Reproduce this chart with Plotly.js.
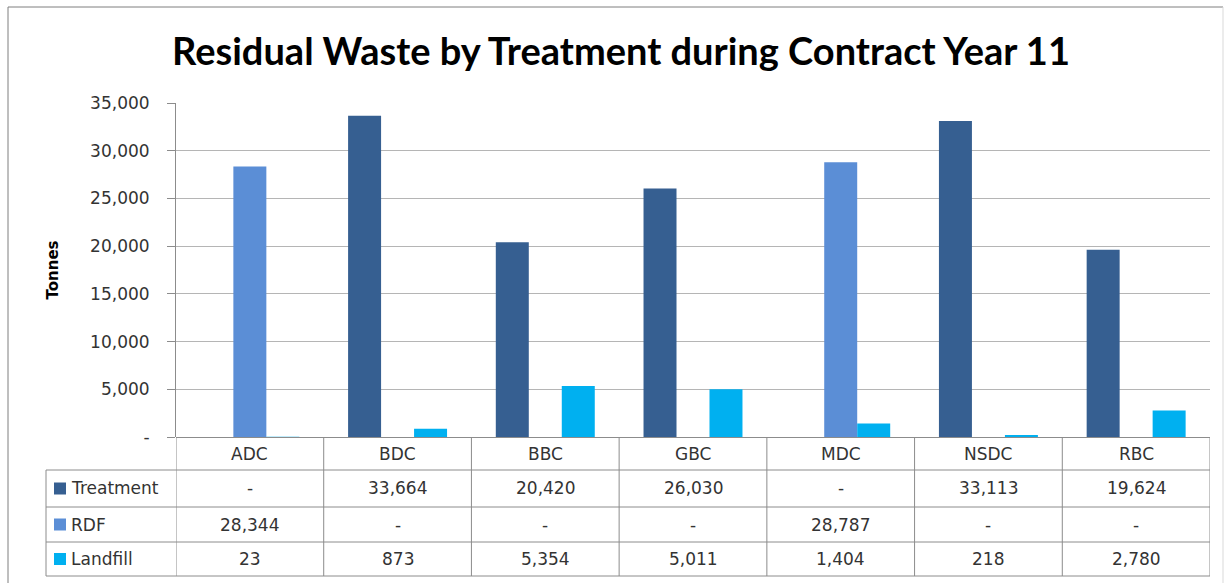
<!DOCTYPE html>
<html>
<head>
<meta charset="utf-8">
<script src="https://cdn.plot.ly/plotly-3.0.1.min.js"></script>
<style>html,body{margin:0;padding:0;background:#fff;}#chart{width:1231px;height:583px;}</style>
</head>
<body>
<div id="chart"></div>
<script>
// ---- data ----
const categories = ['ADC', 'BDC', 'BBC', 'GBC', 'MDC', 'NSDC', 'RBC'];
const seriesNames = ['Treatment', 'RDF', 'Landfill'];
const treatment = [0, 33664, 20420, 26030, 0, 33113, 19624];
const rdf = [28344, 0, 0, 0, 28787, 0, 0];
const landfill = [23, 873, 5354, 5011, 1404, 218, 2780];
const yTickVals = [0, 5000, 10000, 15000, 20000, 25000, 30000, 35000];
const yTickText = ['-', '5,000', '10,000', '15,000', '20,000', '25,000', '30,000', '35,000'];

// ---- styles ----
const colors = ['#365F91', '#5B8ED6', '#00B0F0'];
const W = 1231, H = 583;
const plotL = 176, plotR = 1210, plotT = 103, plotB = 437;
const tableL = 46;
const rowLines = [470, 507, 542, 576];
const lineCol = '#8c8c8c';
const txtCol = '#333333';
const font = 'DejaVu Sans, Verdana, sans-serif';

const xp = px => (px - plotL) / (plotR - plotL);
const yp = py => (plotB - py) / (plotB - plotT);
const fmt = v => v === 0 ? '-' : v.toLocaleString('en-US');

const seriesValues = [treatment, rdf, landfill];
const traces = seriesValues.map((vals, i) => ({
  type: 'bar', name: seriesNames[i], x: categories, y: vals,
  marker: {color: colors[i], line: {width: 0}}
}));

const shapes = [];
const annotations = [];
// outer border
shapes.push({type: 'line', xref: 'paper', yref: 'paper', x0: xp(8), x1: xp(8), y0: yp(7), y1: yp(600), line: {color: '#7f7f7f', width: 1}});
shapes.push({type: 'line', xref: 'paper', yref: 'paper', x0: xp(8), x1: xp(1223), y0: yp(7), y1: yp(7), line: {color: '#7f7f7f', width: 1}});
shapes.push({type: 'line', xref: 'paper', yref: 'paper', x0: xp(1223), x1: xp(1223), y0: yp(7), y1: yp(600), line: {color: '#d9d9d9', width: 1}});

// table vertical lines at category boundaries
for (let i = 0; i <= categories.length; i++) {
  shapes.push({type: 'line', xref: 'x', yref: 'paper', x0: i - 0.5, x1: i - 0.5,
    y0: 0, y1: yp(rowLines[rowLines.length - 1]), line: {color: lineCol, width: 1}});
}
// table left edge
shapes.push({type: 'line', xref: 'paper', yref: 'paper', x0: xp(tableL), x1: xp(tableL),
  y0: yp(rowLines[0]), y1: yp(rowLines[rowLines.length - 1]), line: {color: lineCol, width: 1}});
// row lines
rowLines.forEach(r => {
  shapes.push({type: 'line', xref: 'paper', yref: 'paper', x0: xp(tableL), x1: 1,
    y0: yp(r), y1: yp(r), line: {color: lineCol, width: 1}});
});

const cellFont = {family: font, size: 17, color: txtCol};
// header row labels
categories.forEach((c, i) => {
  annotations.push({xref: 'x', yref: 'paper', x: i, y: yp((plotB + rowLines[0]) / 2),
    text: c, showarrow: false, xanchor: 'center', yanchor: 'middle', font: cellFont});
});
// rows
seriesNames.forEach((name, r) => {
  const top = rowLines[r], bot = rowLines[r + 1];
  const cy = (top + bot) / 2;
  // legend key
  shapes.push({type: 'rect', xref: 'paper', yref: 'paper', x0: xp(54), x1: xp(66),
    y0: yp(cy - 6), y1: yp(cy + 6), fillcolor: colors[r], line: {width: 0}});
  annotations.push({xref: 'paper', yref: 'paper', x: xp(69), y: yp(cy), text: name,
    showarrow: false, xanchor: 'left', yanchor: 'middle', font: cellFont});
  seriesValues[r].forEach((v, i) => {
    annotations.push({xref: 'x', yref: 'paper', x: i, y: yp(cy), text: fmt(v),
      showarrow: false, xanchor: 'center', yanchor: 'middle', font: cellFont});
  });
});

const layout = {
  width: W, height: H,
  paper_bgcolor: '#ffffff', plot_bgcolor: '#ffffff',
  margin: {l: plotL, r: W - plotR, t: plotT, b: H - plotB, pad: 0},
  title: {text: 'Residual Waste by Treatment during Contract Year 11',
    font: {family: 'Lato, sans-serif', size: 38, color: '#000', weight: 'bold'},
    xref: 'paper', x: xp(621), xanchor: 'center',
    yref: 'container', y: 1 - 52 / H, yanchor: 'middle'},
  showlegend: false,
  barmode: 'group', bargap: 0.33, bargroupgap: 0,
  xaxis: {type: 'category', showticklabels: false, showgrid: false, zeroline: false,
    showline: false, ticks: '', range: [-0.5, categories.length - 0.5], fixedrange: true},
  yaxis: {range: [0, 35000], tickvals: yTickVals, ticktext: yTickText,
    tickfont: {family: font, size: 17, color: txtCol},
    ticks: 'outside', ticklen: 8, tickcolor: lineCol, ticklabelstandoff: 14,
    showline: true, linecolor: lineCol, linewidth: 1,
    showgrid: true, gridcolor: '#b5b5b5', gridwidth: 1,
    zeroline: true, zerolinecolor: lineCol, zerolinewidth: 1,
    title: {text: 'Tonnes', standoff: 27, font: {family: font, size: 15, color: '#000', weight: 'bold'}},
    fixedrange: true},
  shapes: shapes,
  annotations: annotations
};

Plotly.newPlot('chart', traces, layout, {displayModeBar: false, staticPlot: true});
</script>
</body>
</html>
